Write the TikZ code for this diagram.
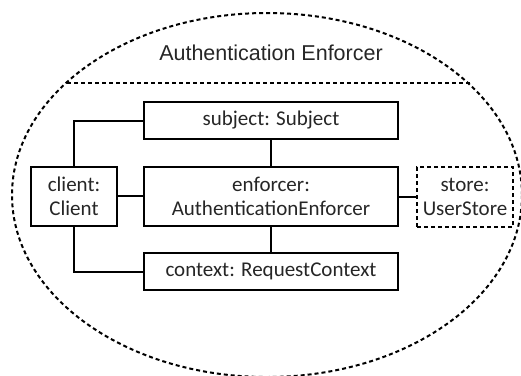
\documentclass[tikz,border=0pt]{standalone}
\usepackage{fontspec}
\setmainfont{Carlito}
\newfontfamily\titlefont{Liberation Sans}
\begin{document}
\begin{tikzpicture}[x=1pt,y=-1pt,
  obj/.style={draw=black,line width=2pt,fill=white,align=center,inner sep=0pt,
    font=\fontsize{21}{24}\selectfont,text=black!85},
  dotline/.style={line width=2pt,dash pattern=on 4pt off 3pt},
  link/.style={line width=2pt}]
\useasboundingbox (0,0) rectangle (521,375);
\draw[dotline] (267,195) ellipse [x radius=255, y radius=182];
\coordinate (dl) at (67,83);
\coordinate (dr) at (471,83);
\draw[dotline] (dl) -- (dr);
\node[font=\titlefont\fontsize{21.5}{24}\selectfont,text=black!85] (title) at (271,53) {Authentication Enforcer};
\node[obj,minimum width=254pt,minimum height=37pt] (subject) at (271,120.5) {subject: Subject};
\node[obj,minimum width=254pt,minimum height=59pt] (enforcer) at (271,196.5) {enforcer:\\AuthenticationEnforcer};
\node[obj,minimum width=86pt,minimum height=59pt] (client) at (74,196) {client:\\Client};
\node[obj,dotline,minimum width=96pt,minimum height=60pt] (store) at (465,197) {store:\\UserStore};
\node[obj,minimum width=254pt,minimum height=37pt] (context) at (271,271.5) {context: RequestContext};
\draw[link] (client.north) |- (subject.west);
\draw[link] (client.south) |- (context.west);
\draw[link] (client.east) -- (enforcer.west |- client.east);
\draw[link] (subject.south) -- (enforcer.north);
\draw[link] (enforcer.south) -- (context.north);
\draw[link] (enforcer.east) -- (store.west |- enforcer.east);
\end{tikzpicture}
\end{document}
